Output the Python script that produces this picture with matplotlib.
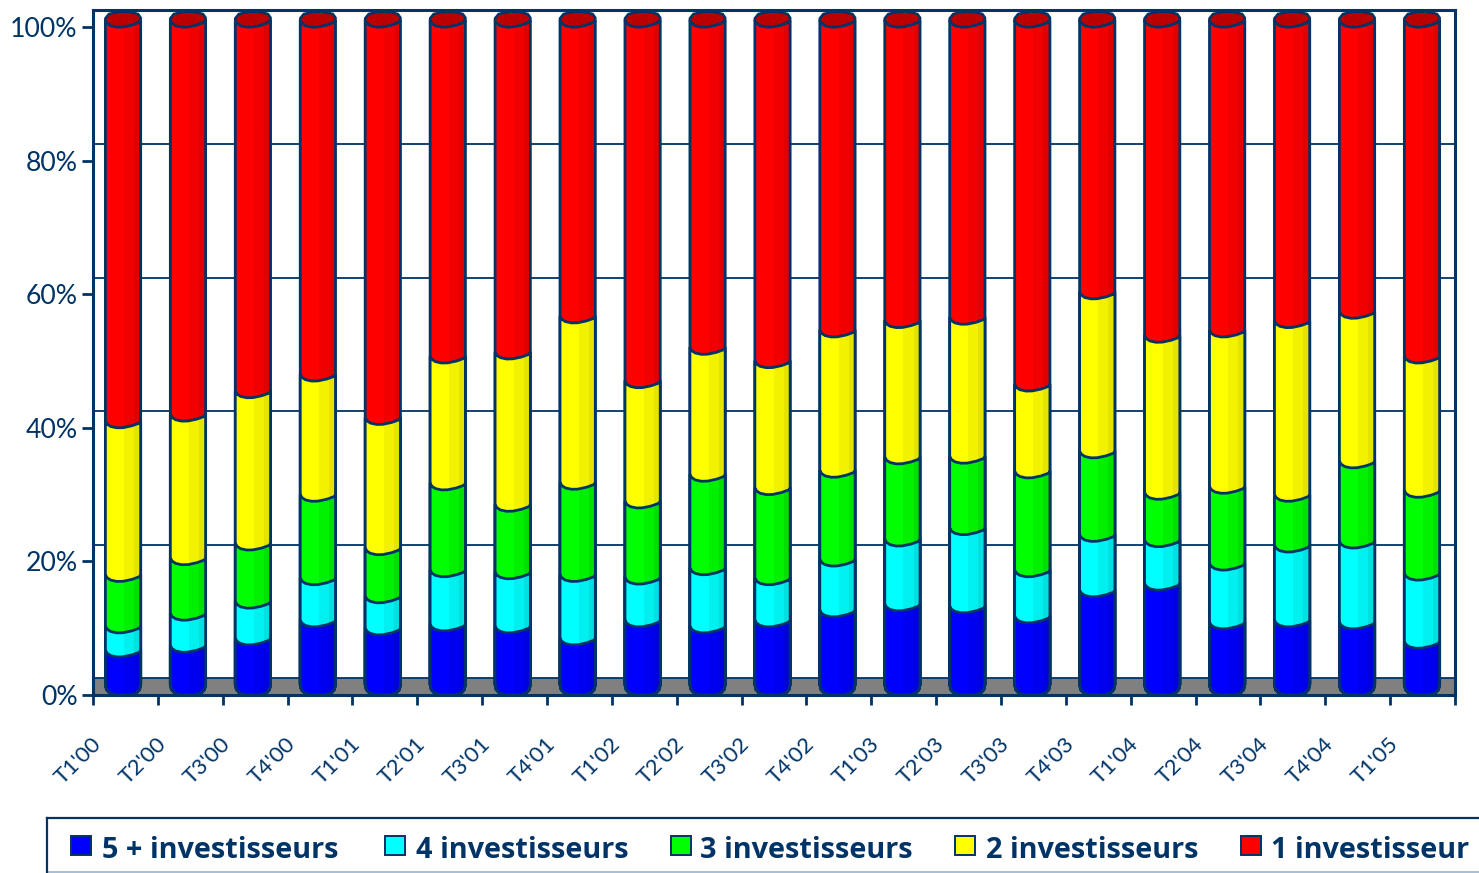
import matplotlib
matplotlib.use('Agg')
import matplotlib.pyplot as plt
import matplotlib.transforms as mtrans
from matplotlib.patches import Polygon, Rectangle
import numpy as np

quarters = ["T1'00", "T2'00", "T3'00", "T4'00", "T1'01", "T2'01", "T3'01", "T4'01",
            "T1'02", "T2'02", "T3'02", "T4'02", "T1'03", "T2'03", "T3'03", "T4'03",
            "T1'04", "T2'04", "T3'04", "T4'04", "T1'05"]

# cumulative share (%) at the top of each stack level
cum_5plus = [5.7, 6.4, 7.5, 10.2, 9.0, 9.6, 9.3, 7.5, 10.2, 9.3, 10.2,
             11.7, 12.6, 12.3, 10.8, 14.7, 15.7, 9.9, 10.2, 9.9, 7.0]
cum_4 = [9.3, 11.2, 13.0, 16.5, 13.8, 17.7, 17.4, 17.0, 16.6, 18.0, 16.5,
         19.3, 22.3, 24.0, 17.7, 23.0, 22.2, 18.7, 21.4, 22.0, 17.2]
cum_3 = [17.0, 19.5, 21.7, 29.0, 21.0, 30.7, 27.5, 30.8, 28.0, 32.0, 30.0,
         32.6, 34.6, 34.7, 32.5, 35.5, 29.3, 30.2, 29.0, 34.0, 29.6]
cum_2 = [40.0, 41.0, 44.5, 47.0, 40.5, 49.7, 50.3, 55.7, 46.0, 51.0, 49.0,
         53.6, 55.0, 55.5, 45.5, 59.3, 52.8, 53.6, 55.0, 56.4, 49.7]
cum_1 = [100.0] * 21

names = ['5 + investisseurs', '4 investisseurs', '3 investisseurs', '2 investisseurs', '1 investisseur']
levels = [cum_5plus, cum_4, cum_3, cum_2, cum_1]
colors = ['#0000FF', '#00FFFF', '#00FF00', '#FFFF00', '#FF0000']
dark2 = ['#0000F0', '#00F0F0', '#00F000', '#F2F200', '#F00000']
dark3 = ['#0000E0', '#00E0E0', '#00E000', '#E4E400', '#E00000']

navy = '#003366'
floor_h = 2.5
half = 0.272

# front rim of a cylinder slice, t=-1 left edge, t=1 right edge
rim_t = np.array([-1, -0.9, -0.7, -0.35, 0.0, 0.5, 0.92, 1])
rim_y = np.array([1.0, 0.55, 0.2, 0.0, 0.02, 0.3, 0.7, 1.0])
base_t = np.array([-1, -0.93, -0.75, -0.4, 0.4, 0.75, 0.93, 1])
base_y = np.array([1.6, 0.8, 0.3, 0.02, 0.02, 0.3, 0.8, 1.6])


def column(x, top):
    xs = list(x + half * base_t) + list(x + half * rim_t[::-1])
    ys = list(base_y) + list(top + rim_y[::-1])
    return np.column_stack([xs, ys])


fig = plt.figure(figsize=(14.79, 8.73), dpi=100)
ax = fig.add_axes([93 / 1479, 1 - 695 / 873, (1455 - 93) / 1479, (695 - 9.5) / 873])
x = -0.037 + np.arange(len(quarters)) * 1.0014

ax.add_patch(Rectangle((-0.5, 0), 21, floor_h, fc='#808080', ec='none', zorder=1))
ax.hlines(np.arange(0, 101, 20) + floor_h, -0.5, 20.5, color=navy, lw=1.3, zorder=1.5)

z = 2
for k in range(4, -1, -1):
    for i in range(len(x)):
        body = Polygon(column(x[i], levels[k][i]), closed=True, fc=colors[k], ec='none', zorder=z)
        ax.add_patch(body)
        s2 = ax.bar(x[i] + half * 0.345, levels[k][i] + 2, width=half * 0.57, color=dark2[k], zorder=z)
        s3 = ax.bar(x[i] + half * 0.815, levels[k][i] + 2, width=half * 0.37, color=dark3[k], zorder=z)
        s2[0].set_clip_path(body)
        s3[0].set_clip_path(body)
        ax.add_patch(Polygon(column(x[i], levels[k][i]), closed=True, fc='none', ec=navy,
                             lw=2.0, joinstyle='round', zorder=z + 0.1))
    z += 1

# top caps of the cylinders
cap_t = np.array([-1, -0.8, -0.3, 0.0, 0.4, 0.85, 1])
cap_y = np.array([1.3, 1.95, 2.25, 2.3, 2.25, 1.95, 1.4])
low_y = np.array([1.0, 0.6, 0.2, 0.0, 0.02, 0.3, 0.8, 1.2])
for i in range(len(x)):
    xs = list(x[i] + half * rim_t) + list(x[i] + half * cap_t[::-1])
    ys = list(cum_1[i] + low_y) + list(cum_1[i] + cap_y[::-1])
    ax.add_patch(Polygon(np.column_stack([xs, ys]), closed=True, fc='#BB0000', ec=navy,
                         lw=1.8, zorder=z))

ax.set_xlim(-0.5, 20.5)
ax.set_ylim(0, 102.62)
ax.set_yticks(np.arange(0, 101, 20))
ax.set_yticklabels(['%d%%' % v for v in range(0, 101, 20)], fontsize=19.2, family='Lato', color=navy)
ax.set_xticks(np.arange(-0.5, 21))
ax.set_xticklabels(quarters + [''], fontsize=16, family='Lato', color=navy,
                   rotation=45, ha='center')
ax.tick_params(axis='y', length=8, width=2, color=navy, pad=3)
ax.tick_params(axis='x', length=7, width=2, color=navy, pad=21)
shift = mtrans.ScaledTranslation(-15 / 100, 0, fig.dpi_scale_trans)
for lab in ax.get_xticklabels():
    lab.set_transform(lab.get_transform() + shift)
for sp in ax.spines.values():
    sp.set_color(navy)
    sp.set_linewidth(2.2)
    sp.set_zorder(20)


# legend, laid out in figure pixels
def px(a, b):
    return a / 1479, 1 - b / 873


fig.add_artist(plt.Line2D([47 / 1479, 1], [1 - 818 / 873] * 2, color=navy, lw=1.6))
fig.add_artist(plt.Line2D([47 / 1479, 1], [1 - 872 / 873] * 2, color='#A8BDD2', lw=1.4))
fig.add_artist(plt.Line2D([47 / 1479] * 2, [1 - 818 / 873, 1 - 872 / 873], color=navy, lw=1.6))
key_x = [71, 385, 671, 955, 1241]
text_x = [102, 416, 700, 986, 1271]
for k in range(5):
    fig.add_artist(Rectangle(px(key_x[k], 855), 20 / 1479, 19 / 873, fc=colors[k], ec=navy, lw=1.4,
                             transform=fig.transFigure))
    fig.text(*px(text_x[k], 850), names[k], fontsize=20.8, family='Open Sans', fontweight='bold',
             color=navy, va='center', ha='left')

fig.savefig('out.png', dpi=100)
